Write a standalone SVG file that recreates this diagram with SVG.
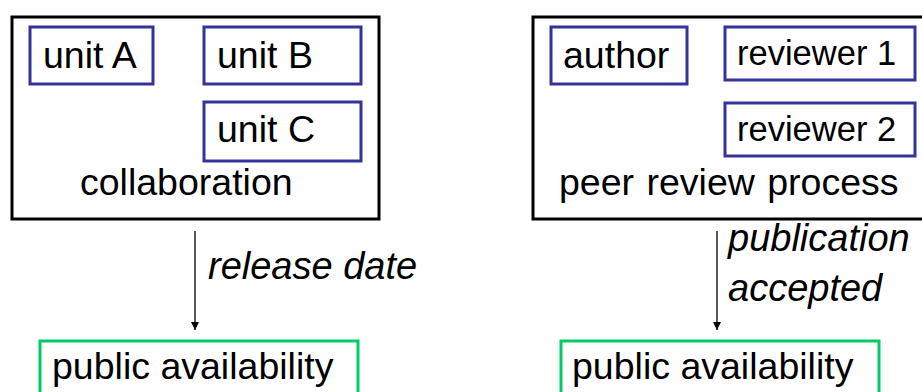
<svg xmlns="http://www.w3.org/2000/svg" width="922" height="392" viewBox="0 0 922 392">
<defs>
<style>
.outer{fill:#fff;stroke:#000;stroke-width:3}
.unit{fill:#fff;stroke:#333399;stroke-width:3}
.pub{fill:#fff;stroke:#00cc66;stroke-width:3}
.t{font-family:"Liberation Sans",Arial,sans-serif;font-size:37.5px;fill:#000}
.s{font-size:34.5px}
.i{font-style:italic;font-size:38px}
.edge{stroke:#000;stroke-width:1.3;fill:none}
</style>
<marker id="ah" markerWidth="10" markerHeight="10" refX="8" refY="4" orient="auto" markerUnits="userSpaceOnUse">
<path d="M0,0 L8,4 L0,8 Z" fill="#000"/>
</marker>
</defs>
<rect width="922" height="392" fill="#fff"/>
<g id="collaboration">
<rect class="outer" x="12" y="17" width="367" height="202"/>
<text class="t" x="80" y="195">collaboration</text>
</g>
<g id="unitA"><rect class="unit" x="30" y="27" width="123" height="57"/><text class="t" x="43" y="68">unit A</text></g>
<g id="unitB"><rect class="unit" x="204" y="27" width="157" height="57"/><text class="t" x="217" y="68">unit B</text></g>
<g id="unitC"><rect class="unit" x="204" y="102" width="157" height="59"/><text class="t" x="217" y="142">unit C</text></g>
<g id="peer">
<rect class="outer" x="533" y="17" width="400" height="202"/>
<text class="t" x="559" y="195" word-spacing="2">peer review process</text>
</g>
<g id="author"><rect class="unit" x="551" y="27" width="136" height="57"/><text class="t" x="563" y="68">author</text></g>
<g id="reviewer1"><rect class="unit" x="725" y="27" width="190" height="53"/><text class="t s" x="737" y="65">reviewer 1</text></g>
<g id="reviewer2"><rect class="unit" x="725" y="103" width="190" height="53"/><text class="t s" x="737" y="141">reviewer 2</text></g>
<g id="pubLeft"><rect class="pub" x="40" y="341" width="318" height="60"/><text class="t" x="52" y="379">public availability</text></g>
<g id="pubRight"><rect class="pub" x="561" y="341" width="318" height="60"/><text class="t" x="572" y="379">public availability</text></g>
<g id="connectors">
<line class="edge" x1="195" y1="231" x2="195" y2="330" marker-end="url(#ah)"/>
<text class="t i" x="208" y="279">release date</text>
<line class="edge" x1="717" y1="231" x2="717" y2="330" marker-end="url(#ah)"/>
<text class="t i" x="728" y="251">publication</text>
<text class="t i" x="728" y="301">accepted</text>
</g>
</svg>
